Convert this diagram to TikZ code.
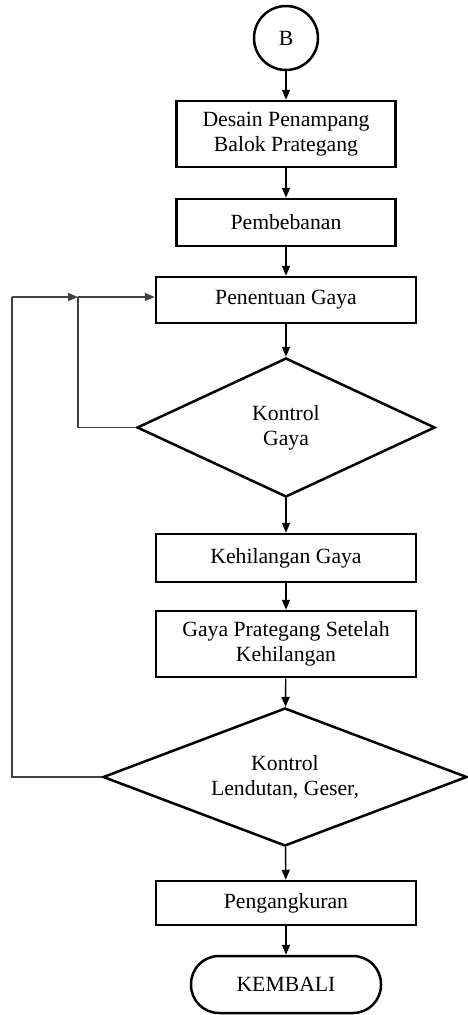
\documentclass[tikz,border=0pt]{standalone}
\usepackage{fontspec}
\setmainfont{Liberation Serif}
\usetikzlibrary{shapes.geometric,arrows.meta}

\tikzset{
  proses/.style={draw, line width=2.5pt, rectangle, align=center, minimum width=260pt},
  keputusan/.style={draw, line width=2.5pt, diamond, align=center, inner sep=0pt},
  ujung/.style={draw, line width=2.5pt, rectangle, rounded corners=28pt, minimum width=190pt, minimum height=57pt},
  alir/.style={line width=1.4pt, ->},
  balik/.style={black!75, line width=1.1pt}
}

\begin{document}
\begin{tikzpicture}[x=1pt, y=-1pt, >={Triangle[length=10pt,width=8pt]},
  font=\fontsize{21.7pt}{25pt}\selectfont]
\useasboundingbox (0,0) rectangle (468,1015);

\node[draw, line width=2.5pt, circle, minimum size=64pt, inner sep=0pt] (B) at (286,38) {B};
\node[proses, minimum width=219pt, minimum height=66pt] (desain) at (286,134) {Desain Penampang\\Balok Prategang};
\node[proses, minimum width=219pt, minimum height=47pt] (beban) at (286,222.5) {Pembebanan};
\node[proses, minimum height=46pt] (tentu) at (286,300) {Penentuan Gaya};
\node[keputusan, aspect=2.15, minimum width=298pt, minimum height=139pt] (kontrol1) at (286,427.5) {Kontrol\\Gaya};
\node[proses, minimum height=48pt] (hilang) at (286,558) {Kehilangan Gaya};
\node[proses, minimum height=66pt] (setelah) at (286,644) {Gaya Prategang Setelah\\Kehilangan};
\node[keputusan, aspect=2.64, minimum width=364pt, minimum height=138pt] (kontrol2) at (285,777) {Kontrol\\Lendutan, Geser,};
\node[proses, minimum height=44pt] (angkur) at (286,903) {Pengangkuran};
\node[ujung] (kembali) at (286,984.5) {KEMBALI};

% alur utama
\draw[alir] (B) -- (desain);
\draw[alir] (desain) -- (beban);
\draw[alir] (beban) -- (tentu);
\draw[alir] (tentu) -- (kontrol1);
\draw[alir] (kontrol1) -- (hilang);
\draw[alir] (hilang) -- (setelah);
\draw[alir] (setelah) -- (kontrol2);
\draw[alir] (kontrol2) -- (angkur);
\draw[alir] (angkur) -- (kembali);

% umpan balik
\coordinate (masuk) at (78,297);
\draw[balik] (kontrol1.west) -| (masuk);
\draw[balik, ->] (masuk) -- (masuk -| tentu.west);
\draw[balik] (kontrol2.west) -- (12,777) -- (12,297);
\draw[balik, ->] (12,297) -- (masuk);

\end{tikzpicture}
\end{document}
